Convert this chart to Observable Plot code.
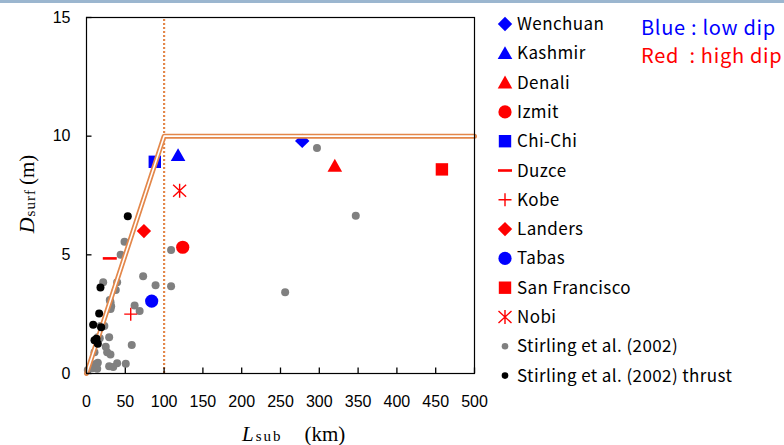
<!DOCTYPE html>
<html><head><meta charset="utf-8">
<script src="https://cdn.jsdelivr.net/npm/d3@7"></script>
<script src="https://cdn.jsdelivr.net/npm/@observablehq/plot@0.6"></script>
<style>
html,body{margin:0;padding:0;background:#fff;}
#wrap{position:relative;width:784px;height:445px;overflow:hidden;background:#fff;}
#topbar{position:absolute;left:0;top:0;width:784px;height:3px;background:#9bb6cf;z-index:2;}
#wrap svg{position:absolute;left:0;top:0;}
</style></head><body><div id="wrap"><div id="topbar"></div></div>
<script>
// ---- data ----
const eventNames = ["Wenchuan","Kashmir","Denali","Izmit","Chi-Chi","Duzce","Kobe","Landers","Tabas","San Francisco","Nobi"];
const eventL     = [278, 118, 320, 124, 88, 30, 57, 74, 84, 458, 120];
const eventD     = [9.8, 9.2, 8.75, 5.32, 8.92, 4.85, 2.5, 6.0, 3.05, 8.6, 7.7];
const eventDip   = ["low","low","high","high","low","high","high","high","low","high","high"];

const stirlingL = [49,44,21.5,39.5,37.7,73,89,109,109,31,31,62,68.5,18,23,29.2,14.5,58.3,24.8,26.6,30.9,10.3,12.9,29.2,34.4,39.5,50.6,13.8,1.7,7.3,17.1,30,31.8,9.4,14.6,297,347,256];
const stirlingD = [5.55,5.0,3.84,3.84,3.52,4.1,3.72,5.2,3.68,3.0,2.72,2.87,2.63,2.0,2.0,1.53,1.53,1.2,1.13,0.9,0.8,0.9,0.4,0.31,0.27,0.43,0.41,0.2,0.15,0.22,1.48,3.1,2.83,0.38,0.45,9.5,6.65,3.42];
const thrustL = [53.2,18,16.3,8.6,18.9,12.9,14.6,10.3];
const thrustD = [6.63,3.62,2.53,2.05,1.95,1.46,1.25,1.4];

const modelL = [0, 100, 500];
const modelD = [0, 10, 10];
const boundaryL = [100];

const xTicks = [0,50,100,150,200,250,300,350,400,450,500];
const yTicks = [0,5,10,15];

// ---- styles ----
const BLUE = "#0000ff", RED = "#ff0000", ORANGE = "#e3874a";
const dipColor = {low: BLUE, high: RED};
const shapeOf = {"Wenchuan":"diamond","Kashmir":"triangle","Denali":"triangle","Izmit":"circle","Chi-Chi":"square",
  "Duzce":"dash","Kobe":"plus","Landers":"diamond","Tabas":"circle","San Francisco":"square","Nobi":"asterisk"};
const strokeShapes = new Set(["dash","plus","asterisk"]);
const symbols = {
  diamond: {draw(c){const h=7.2;c.moveTo(0,-h);c.lineTo(h,0);c.lineTo(0,h);c.lineTo(-h,0);c.closePath();}},
  triangle:{draw(c){c.moveTo(0,-7);c.lineTo(7.3,5.8);c.lineTo(-7.3,5.8);c.closePath();}},
  circle:  {draw(c){c.moveTo(6.6,0);c.arc(0,0,6.6,0,2*Math.PI);c.closePath();}},
  square:  {draw(c){c.rect(-6.2,-6.2,12.4,12.4);}},
  dash:    {draw(c){c.moveTo(-7,0);c.lineTo(7,0);}},
  plus:    {draw(c){c.moveTo(-6.5,0);c.lineTo(6.5,0);c.moveTo(0,-6.5);c.lineTo(0,6.5);}},
  asterisk:{draw(c){c.moveTo(0,-7);c.lineTo(0,7);c.moveTo(-6.5,-6);c.lineTo(6.5,6);c.moveTo(-6.5,6);c.lineTo(6.5,-6);}},
  dot:     {draw(c){c.moveTo(4,0);c.arc(0,0,4,0,2*Math.PI);c.closePath();}},
  ldot:    {draw(c){c.moveTo(3.3,0);c.arc(0,0,3.3,0,2*Math.PI);c.closePath();}}
};
const strokeW = {dash:2.6, plus:1.4, asterisk:1.4};

const events = eventNames.map((n,i)=>({name:n, L:eventL[i], D:eventD[i], dip:eventDip[i]}));
const stirling = stirlingL.map((l,i)=>({L:l, D:stirlingD[i]}));
const thrust = thrustL.map((l,i)=>({L:l, D:thrustD[i]}));
const model = modelL.map((l,i)=>({L:l, D:modelD[i]}));

const eventMarks = events.map(e => {
  const sh = shapeOf[e.name];
  const col = dipColor[e.dip];
  return strokeShapes.has(sh)
    ? Plot.dot([e], {x:"L", y:"D", symbol: symbols[sh], r: 5, fill:"none", stroke: col, strokeWidth: strokeW[sh]})
    : Plot.dot([e], {x:"L", y:"D", symbol: symbols[sh], r: 5, fill: col, stroke: "none"});
});

// plot geometry, used to convert a 5px inward tick length into data units
const W = 784, H = 445, mL = 86, mR = 310, mT = 17, mB = 72;
const xDom = [0, 500], yDom = [0, 15];
const tickPx = 5.5;
const tickLenY = tickPx * (yDom[1] - yDom[0]) / (H - mT - mB);
const tickLenX = tickPx * (xDom[1] - xDom[0]) / (W - mL - mR);

const chart = Plot.plot({
  width: W, height: H,
  marginLeft: mL, marginRight: mR, marginTop: mT, marginBottom: mB,
  style: {fontFamily: "'Liberation Sans', Arial, sans-serif", fontSize: "16px", color: "#000", background: "transparent"},
  x: {domain: xDom, label: null},
  y: {domain: yDom, label: null},
  marks: [
    Plot.dot(stirling, {x:"L", y:"D", symbol: symbols.dot, r: 4, fill: "#808080"}),
    ...eventMarks,
    Plot.ruleX(boundaryL, {y1: yDom[0], y2: yDom[1], stroke: ORANGE, strokeWidth: 2.2, strokeDasharray: "2,2"}),
    Plot.line(model, {x:"L", y:"D", stroke: ORANGE, strokeWidth: 5, clip: false}),
    Plot.line(model, {x:"L", y:"D", stroke: "#fff", strokeWidth: 1.6, clip: false}),
    Plot.dot(thrust, {x:"L", y:"D", symbol: symbols.dot, r: 4, fill: "#000"}),
    // inward tick marks
    Plot.ruleX(xTicks, {y1: yDom[0], y2: yDom[0] + tickLenY, stroke: "#000", strokeWidth: 1.3}),
    Plot.ruleY(yTicks, {x1: xDom[0], x2: xDom[0] + tickLenX, stroke: "#000", strokeWidth: 1.3}),
    Plot.frame({stroke: "#000", strokeWidth: 1.2}),
    // tick labels
    Plot.axisX({ticks: xTicks, tickSize: 0, tickPadding: 22, fontSize: 16}),
    Plot.axisY({ticks: yTicks, tickSize: 0, tickPadding: 16, fontSize: 16})
  ]
});
document.getElementById("wrap").appendChild(chart);

// ---- axis titles & legend (text) ----
const svg = d3.select(chart);
const serif = "'Liberation Serif', 'Times New Roman', serif";
const yl = svg.append("text").attr("transform","translate(34,194) rotate(-90)").attr("text-anchor","middle")
  .attr("font-family", serif).attr("fill","#000");
yl.append("tspan").attr("font-size",22).attr("font-style","italic").text("D");
yl.append("tspan").attr("font-size",15).attr("dy",1).attr("dx",1).attr("letter-spacing",1).text("surf");
yl.append("tspan").attr("font-size",21).attr("dy",-1).attr("dx",4).text("(m)");

const xl = svg.append("text").attr("x",242).attr("y",441).attr("text-anchor","start").attr("font-family", serif).attr("fill","#000");
xl.append("tspan").attr("font-size",21).attr("font-style","italic").text("L");
xl.append("tspan").attr("font-size",15).attr("dx",2).attr("dy",0).attr("letter-spacing",2).text("sub");
xl.append("tspan").attr("font-size",21).attr("dx",22).text("(km)");

const legendItems = events.map(e => ({label: e.name, shape: shapeOf[e.name], color: dipColor[e.dip]}))
  .concat([{label:"Stirling et al. (2002)", shape:"ldot", color:"#808080"},
           {label:"Stirling et al. (2002) thrust", shape:"ldot", color:"#000"}]);
const lg = svg.append("g").attr("font-family","'Noto Sans CJK JP', 'Noto Sans', sans-serif").attr("font-size",17)
  .attr("letter-spacing","0.4px").attr("text-anchor","start");
legendItems.forEach((it,i) => {
  const cy = 24 + i*29.3;
  const p = d3.symbol(symbols[it.shape])();
  const isStroke = strokeShapes.has(it.shape);
  lg.append("path").attr("d", p).attr("transform", `translate(505,${cy})`)
    .attr("fill", isStroke ? "none" : it.color).attr("stroke", isStroke ? it.color : "none")
    .attr("stroke-width", isStroke ? strokeW[it.shape] : 0);
  lg.append("text").attr("x", 517).attr("y", cy + 6).attr("fill","#000").text(it.label);
});
const nt = svg.append("g").attr("font-family","'Noto Sans CJK JP', 'Noto Sans', sans-serif").attr("font-size",20)
  .attr("letter-spacing","0.7px").attr("text-anchor","start");
nt.append("text").attr("x",641).attr("y",35).attr("fill",BLUE).style("white-space","pre").text("Blue : low dip");
nt.append("text").attr("x",641).attr("y",63).attr("fill",RED).style("white-space","pre").text("Red  : high dip");
</script>
</body></html>
